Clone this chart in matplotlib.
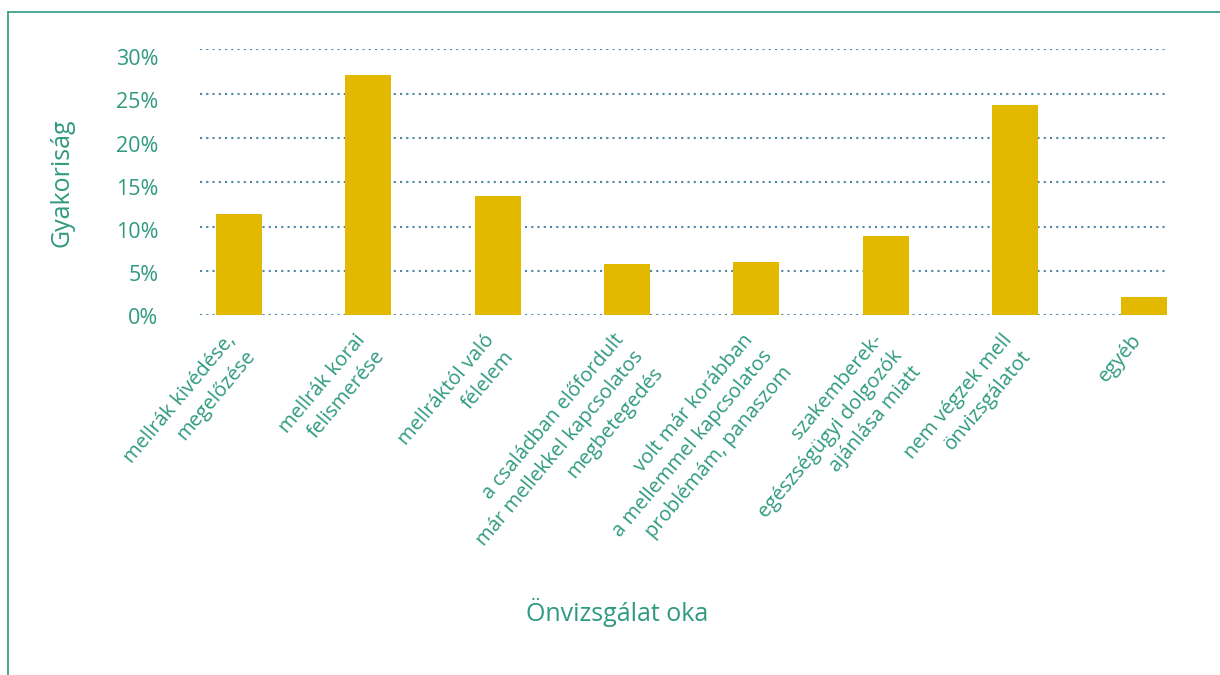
import matplotlib
matplotlib.use("Agg")
import matplotlib.pyplot as plt
import matplotlib.transforms as mtrans
from matplotlib.lines import Line2D

# data
categories = [
    "mellrák kivédése,\nmegelőzése",
    "mellrák korai\nfelismerése",
    "mellráktól való\nfélelem",
    "a családban előfordult\nmár mellekkel kapcsolatos\nmegbetegedés",
    "volt már korábban\na mellemmel kapcsolatos\nproblémám, panaszom",
    "szakemberek-\negészségügyi dolgozók\najánlása miatt",
    "nem végzek mell\nönvizsgálatot",
    "egyéb",
]
values = [11.4, 27.1, 13.5, 5.75, 6.0, 8.9, 23.7, 2.1]
yticks = [0, 5, 10, 15, 20, 25, 30]

green = "#2f9a7f"
bar_color = "#e3b900"
grid_color = "#4f86a6"

plt.rcParams['font.family'] = ['Open Sans', 'DejaVu Sans']

fig = plt.figure(figsize=(12.2, 6.75), dpi=100)
ax = fig.add_axes([0.164, 0.533, 0.793, 0.394])

x = range(len(categories))
ax.bar(x, values, width=0.355, color=bar_color, zorder=3)

ax.set_xlim(-0.30, 7.18)
ax.set_ylim(0, 30)
ax.set_yticks(yticks)
ax.set_yticklabels([f"{v}%" for v in yticks])
for y in yticks:
    ax.axhline(y, color=grid_color, linestyle=(0, (1, 2)), linewidth=1.5, zorder=1)

ax.set_xticks(list(x))
ax.set_xticklabels(categories, rotation=50, ha="right", va="top",
                   rotation_mode="anchor", multialignment="right",
                   linespacing=1.35)

ax.tick_params(axis="x", length=0, labelsize=14.5, labelcolor=green, pad=11)
ax.tick_params(axis="y", length=0, labelsize=15.5, labelcolor=green, pad=30)
# nudge the category labels left so their first line ends near the bar
xshift = mtrans.ScaledTranslation(-14 / 100, 0, fig.dpi_scale_trans)
for lab in ax.get_xticklabels():
    lab.set_transform(lab.get_transform() + xshift)
# the reference's y labels drift a bit below the upper grid lines
for v, lab in zip(yticks, ax.get_yticklabels()):
    shift = mtrans.ScaledTranslation(0, -(1 + 7 * v / 30) / 100, fig.dpi_scale_trans)
    lab.set_transform(lab.get_transform() + shift)
for s in ax.spines.values():
    s.set_visible(False)

ax.set_ylabel("Gyakoriság", fontsize=18, color=green, labelpad=30)
fig.text(0.506, 0.093, "Önvizsgálat oka", fontsize=18, color=green,
         ha="center", va="center")

# frame lines at top and left
fig.add_artist(Line2D([8 / 1220, 8 / 1220], [0, 1 - 12 / 675],
                      transform=fig.transFigure, color=green, linewidth=1.2))
fig.add_artist(Line2D([8 / 1220, 1], [1 - 12 / 675, 1 - 12 / 675],
                      transform=fig.transFigure, color=green, linewidth=1.2))

fig.savefig("out.png", dpi=100)
